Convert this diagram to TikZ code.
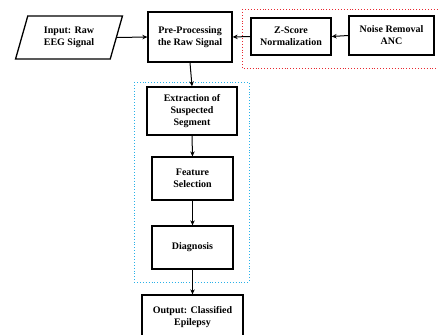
\documentclass[tikz,border=0pt]{standalone}
\usepackage{fontspec}
\setmainfont{Liberation Serif}
\usetikzlibrary{arrows.meta,shapes.geometric}
\definecolor{grpred}{RGB}{232,40,48}
\definecolor{grpblue}{RGB}{40,176,232}

\begin{document}
\begin{tikzpicture}[x=1pt, y=-1pt,
    blk/.style={rectangle, draw=black, line width=1.3pt, fill=white,
                align=center, inner sep=2pt,
                font=\fontsize{10}{12}\selectfont\bfseries},
    io/.style={blk, trapezium, trapezium left angle=72, trapezium right angle=108,
               trapezium stretches=true},
    arr/.style={draw=black, line width=1pt, -{Stealth[length=5pt,width=4.5pt]}},
    grp/.style={line width=0.9pt, dotted}]
  % pinned page: picture is sized in px of the reference
  \useasboundingbox (0,0) rectangle (438,334);
  % --- dotted groups ---------------------------------------------------------
  \draw[grp, grpred]  (242,9)  rectangle (446,68);
  \draw[grp, grpblue] (134,82) rectangle (249,282);
  % --- top row ---------------------------------------------------------------
  \node[io, minimum width=107pt, minimum height=43pt] (inp) at (69,37.5)
    {Input: Raw\\EEG Signal};
  \node[blk, minimum width=84pt, minimum height=50pt] (pre) at (190,37)
    {Pre-Processing\\the Raw Signal};
  \node[blk, minimum width=80pt, minimum height=37pt] (zsc) at (291,36.5)
    {Z-Score\\Normalization};
  \node[blk, minimum width=85pt, minimum height=39pt] (nrm) at (391.5,35.5)
    {Noise Removal\\ANC};
  % --- main column -----------------------------------------------------------
  \node[blk, minimum width=90pt, minimum height=48pt] (ext) at (192,111)
    {Extraction of\\Suspected\\Segment};
  \node[blk, minimum width=81pt, minimum height=43pt] (fsel) at (192.5,178.5)
    {Feature\\Selection};
  \node[blk, minimum width=81pt, minimum height=43pt] (diag) at (192.5,247.5)
    {Diagnosis};
  \node[blk, minimum width=101pt, minimum height=44pt] (outp) at (192.5,317)
    {Output: Classified\\Epilepsy};
  % --- arrows ----------------------------------------------------------------
  \draw[arr] (inp.east) -- (pre.west);
  \draw[arr] (nrm.west) -- (zsc.east);
  \draw[arr] (zsc.west) -- (pre.east);
  \draw[arr] (pre.south) -- (ext.north);
  \draw[arr] (ext.south) -- (fsel.north);
  \draw[arr] (fsel.south) -- (diag.north);
  \draw[arr] (diag.south) -- (outp.north);
\end{tikzpicture}
\end{document}
